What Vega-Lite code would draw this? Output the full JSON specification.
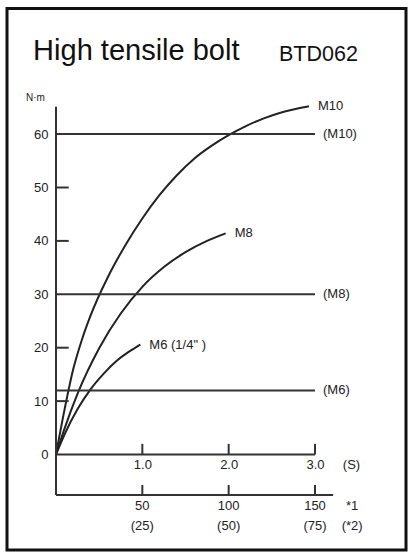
{
  "$schema": "https://vega.github.io/schema/vega-lite/v6.json",
  "width": 399,
  "height": 543,
  "autosize": "none",
  "padding": {"left": 7, "top": 7, "right": 6, "bottom": 3},
  "background": "white",
  "config": {
    "view": {"stroke": null},
    "font": "Liberation Sans"
  },
  "datasets": {
    "curves": [
      {"bolt": "M10", "t": 0, "v": 0},
      {"bolt": "M10", "t": 0.1, "v": 8.5},
      {"bolt": "M10", "t": 0.2, "v": 16},
      {"bolt": "M10", "t": 0.3, "v": 21.5},
      {"bolt": "M10", "t": 0.4, "v": 26},
      {"bolt": "M10", "t": 0.6, "v": 33.2},
      {"bolt": "M10", "t": 0.8, "v": 39.1},
      {"bolt": "M10", "t": 1.0, "v": 44.2},
      {"bolt": "M10", "t": 1.2, "v": 48.6},
      {"bolt": "M10", "t": 1.4, "v": 52.3},
      {"bolt": "M10", "t": 1.6, "v": 55.4},
      {"bolt": "M10", "t": 1.8, "v": 57.8},
      {"bolt": "M10", "t": 2.0, "v": 59.8},
      {"bolt": "M10", "t": 2.2, "v": 61.5},
      {"bolt": "M10", "t": 2.4, "v": 62.9},
      {"bolt": "M10", "t": 2.6, "v": 64.0},
      {"bolt": "M10", "t": 2.8, "v": 64.8},
      {"bolt": "M10", "t": 2.93, "v": 65.2},
      {"bolt": "M8", "t": 0, "v": 0},
      {"bolt": "M8", "t": 0.1, "v": 4.9},
      {"bolt": "M8", "t": 0.25, "v": 11.4},
      {"bolt": "M8", "t": 0.5, "v": 19.9},
      {"bolt": "M8", "t": 0.75, "v": 26.4},
      {"bolt": "M8", "t": 1.0, "v": 31.4},
      {"bolt": "M8", "t": 1.25, "v": 35.1},
      {"bolt": "M8", "t": 1.5, "v": 37.9},
      {"bolt": "M8", "t": 1.75, "v": 40.0},
      {"bolt": "M8", "t": 1.965, "v": 41.4},
      {"bolt": "M6 (1/4\" )", "t": 0, "v": 0},
      {"bolt": "M6 (1/4\" )", "t": 0.1, "v": 3.8},
      {"bolt": "M6 (1/4\" )", "t": 0.25, "v": 8.5},
      {"bolt": "M6 (1/4\" )", "t": 0.4, "v": 12.2},
      {"bolt": "M6 (1/4\" )", "t": 0.55, "v": 15.1},
      {"bolt": "M6 (1/4\" )", "t": 0.7, "v": 17.5},
      {"bolt": "M6 (1/4\" )", "t": 0.85, "v": 19.3},
      {"bolt": "M6 (1/4\" )", "t": 0.977, "v": 20.6}
    ],
    "limits": [
      {"bolt": "(M10)", "v": 60},
      {"bolt": "(M8)", "v": 30},
      {"bolt": "(M6)", "v": 12}
    ],
    "yticks": [{"v": 10}, {"v": 20}, {"v": 40}, {"v": 50}],
    "xticks": [
      {"t": 1, "speed": "50", "half": "(25)"},
      {"t": 2, "speed": "100", "half": "(50)"},
      {"t": 3, "speed": "150", "half": "(75)"}
    ],
    "units2": [{"speed": "*1", "half": "(*2)"}],
    "one": [{"title": "High tensile bolt", "code": "BTD062"}]
  },
  "layer": [
    {
      "data": {"name": "one"},
      "mark": {"type": "rect", "fill": null, "fillOpacity": 0, "stroke": "#111", "strokeWidth": 3},
      "encoding": {
        "x": {"datum": -0.5676},
        "x2": {"datum": 4.0542},
        "y": {"datum": -17.88},
        "y2": {"datum": 83.5}
      }
    },
    {
      "data": {"name": "curves"},
      "mark": {"type": "line", "interpolate": "monotone", "color": "#222", "strokeWidth": 2},
      "encoding": {
        "x": {
          "field": "t", "type": "quantitative",
          "scale": {"domain": [-0.5676, 4.0542], "nice": false, "zero": false},
          "axis": {
            "orient": "bottom", "offset": -95.5,
            "values": [1, 2, 3],
            "format": ".1f",
            "domain": false, "ticks": false, "tickSize": 0, "grid": false,
            "labelBaseline": "top", "labelPadding": 4,
            "labelFontSize": 13, "labelColor": "#222", "labelFont": "Liberation Sans",
            "title": "(S)",
            "titleX": 344, "titleY": 4, "titleAngle": 0, "titleAlign": "center",
            "titleBaseline": "top",
            "titleFontSize": 13, "titleFontWeight": "normal", "titleColor": "#222", "titleFont": "Liberation Sans"
          }
        },
        "y": {
          "field": "v", "type": "quantitative",
          "scale": {"domain": [-17.88, 83.8], "nice": false, "zero": false},
          "axis": {
            "orient": "left", "offset": -49,
            "values": [0, 10, 20, 30, 40, 50, 60],
            "domain": false, "ticks": false, "tickSize": 0, "grid": false,
            "labelPadding": 8, "labelFontSize": 13, "labelColor": "#222", "labelFont": "Liberation Sans",
            "title": "N·m",
            "titleAngle": 0, "titleX": -21, "titleY": 90, "titleAlign": "center", "titleBaseline": "middle",
            "titleFontSize": 10, "titleFontWeight": "normal", "titleColor": "#222", "titleFont": "Liberation Sans"
          }
        },
        "detail": {"field": "bolt"}
      }
    },
    {
      "data": {"name": "curves"},
      "transform": [
        {"joinaggregate": [{"op": "max", "field": "t", "as": "tmax"}], "groupby": ["bolt"]},
        {"filter": "datum.t == datum.tmax"}
      ],
      "mark": {"type": "text", "align": "left", "baseline": "middle", "dx": 9, "fontSize": 13, "color": "#222", "font": "Liberation Sans"},
      "encoding": {
        "x": {"field": "t", "type": "quantitative"},
        "y": {"field": "v", "type": "quantitative"},
        "text": {"field": "bolt"}
      }
    },
    {
      "data": {"name": "limits"},
      "mark": {"type": "rule", "color": "#333", "strokeWidth": 2},
      "encoding": {
        "y": {"field": "v", "type": "quantitative"},
        "x": {"datum": 0},
        "x2": {"datum": 3.0}
      }
    },
    {
      "data": {"name": "limits"},
      "mark": {"type": "text", "align": "left", "baseline": "middle", "dx": 8, "fontSize": 13, "color": "#222", "font": "Liberation Sans"},
      "encoding": {
        "y": {"field": "v", "type": "quantitative"},
        "x": {"datum": 3.0},
        "text": {"field": "bolt"}
      }
    },
    {
      "data": {"name": "yticks"},
      "mark": {"type": "rule", "color": "#333", "strokeWidth": 2},
      "encoding": {
        "y": {"field": "v", "type": "quantitative"},
        "x": {"datum": 0},
        "x2": {"datum": 0.147}
      }
    },
    {
      "data": {"name": "xticks"},
      "mark": {"type": "rule", "color": "#333", "strokeWidth": 2},
      "encoding": {
        "x": {"field": "t", "type": "quantitative"},
        "y": {"datum": 0},
        "y2": {"datum": 2.0}
      }
    },
    {
      "data": {"name": "xticks"},
      "mark": {"type": "rule", "color": "#333", "strokeWidth": 2},
      "encoding": {
        "x": {"field": "t", "type": "quantitative"},
        "y": {"datum": -7.6},
        "y2": {"datum": -5.7}
      }
    },
    {
      "data": {"name": "xticks"},
      "mark": {"type": "text", "align": "center", "baseline": "top", "dy": 5, "fontSize": 13, "color": "#222", "font": "Liberation Sans"},
      "encoding": {
        "x": {"field": "t", "type": "quantitative"},
        "y": {"datum": -7.6},
        "text": {"field": "speed"}
      }
    },
    {
      "data": {"name": "xticks"},
      "mark": {"type": "text", "align": "center", "baseline": "top", "dy": 25, "fontSize": 13, "color": "#222", "font": "Liberation Sans"},
      "encoding": {
        "x": {"field": "t", "type": "quantitative"},
        "y": {"datum": -7.6},
        "text": {"field": "half"}
      }
    },
    {
      "data": {"name": "units2"},
      "mark": {"type": "text", "align": "center", "baseline": "top", "dy": 5, "fontSize": 13, "color": "#222", "font": "Liberation Sans"},
      "encoding": {
        "x": {"datum": 3.43},
        "y": {"datum": -7.6},
        "text": {"field": "speed"}
      }
    },
    {
      "data": {"name": "units2"},
      "mark": {"type": "text", "align": "center", "baseline": "top", "dy": 25, "fontSize": 13, "color": "#222", "font": "Liberation Sans"},
      "encoding": {
        "x": {"datum": 3.43},
        "y": {"datum": -7.6},
        "text": {"field": "half"}
      }
    },
    {
      "data": {"name": "one"},
      "mark": {"type": "rule", "color": "#333", "strokeWidth": 2},
      "encoding": {
        "x": {"datum": 0},
        "y": {"datum": -7.6},
        "y2": {"datum": 65.1}
      }
    },
    {
      "data": {"name": "one"},
      "mark": {"type": "rule", "color": "#333", "strokeWidth": 2},
      "encoding": {
        "y": {"datum": 0},
        "x": {"datum": 0},
        "x2": {"datum": 3.0}
      }
    },
    {
      "data": {"name": "one"},
      "mark": {"type": "rule", "color": "#333", "strokeWidth": 2},
      "encoding": {
        "y": {"datum": -7.6},
        "x": {"datum": 0},
        "x2": {"datum": 3.21}
      }
    },
    {
      "data": {"name": "one"},
      "mark": {"type": "text", "align": "left", "baseline": "alphabetic", "fontSize": 29, "color": "#111", "font": "Liberation Sans"},
      "encoding": {
        "x": {"datum": -0.265},
        "y": {"datum": 73.9},
        "text": {"field": "title"}
      }
    },
    {
      "data": {"name": "one"},
      "mark": {"type": "text", "align": "left", "baseline": "alphabetic", "fontSize": 21.5, "color": "#111", "font": "Liberation Sans"},
      "encoding": {
        "x": {"datum": 2.583},
        "y": {"datum": 73.7},
        "text": {"field": "code"}
      }
    }
  ]
}
